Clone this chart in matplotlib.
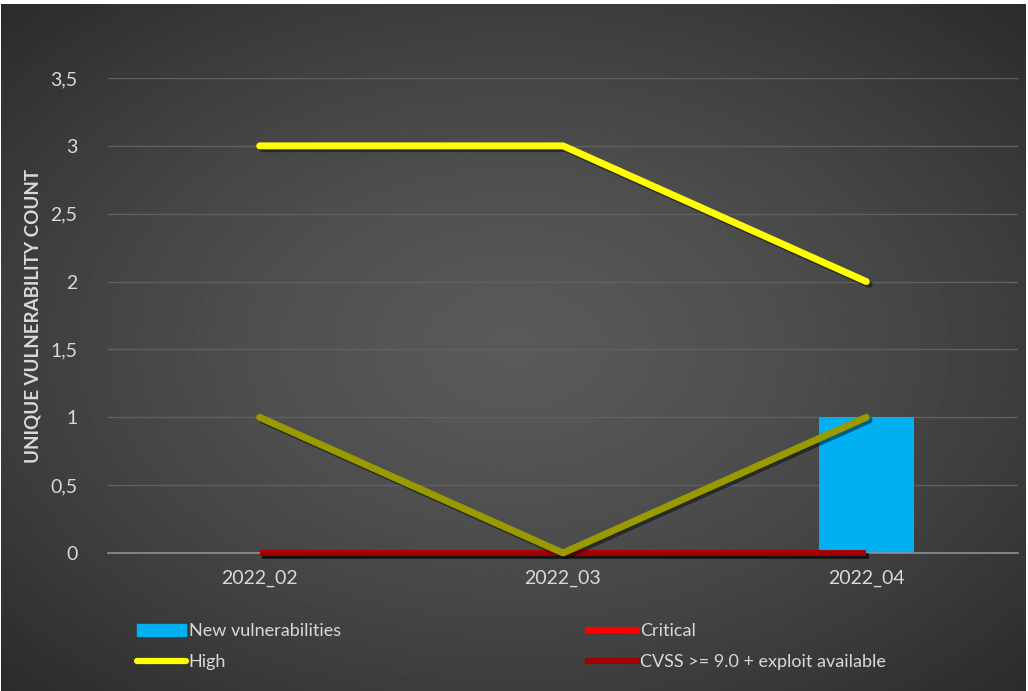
import numpy as np
import matplotlib.pyplot as plt
import matplotlib.patheffects as pe
from matplotlib.lines import Line2D
from matplotlib.patches import Patch

plt.rcParams['font.family'] = ['Lato', 'DejaVu Sans']

months = ["2022_02", "2022_03", "2022_04"]
new_vulns = [0, 0, 1]
critical = [0, 0, 0]
high = [3, 3, 2]
other = [1, 0, 1]
cvss_exploit = [0, 0, 0]

fig = plt.figure(figsize=(10.28, 6.91), dpi=100, facecolor="white")

# radial grey background
bg = fig.add_axes([0.001, 0, 0.997, 0.994])
yy, xx = np.mgrid[-1:1:400j, -1:1:600j]
r = np.sqrt(xx**2 + yy**2) / np.sqrt(2)
bg.imshow(0.35 - 0.18 * r**1.4, cmap="gray", vmin=0, vmax=1, aspect="auto",
          extent=[0, 1, 0, 1])
bg.axis("off")

ax = fig.add_axes([108 / 1028, 1 - 553 / 691, 910 / 1028, 475 / 691])
ax.patch.set_alpha(0)
x = np.arange(len(months))

shadow = [pe.SimpleLineShadow(offset=(2, -2), alpha=0.45, shadow_color="black"),
          pe.Normal()]

ax.bar(x, new_vulns, width=0.315, color="#00b0f0", zorder=2)
ax.plot(x, critical, color="#ff0000", lw=4, zorder=3, clip_on=False,
        solid_capstyle="butt", path_effects=shadow)
ax.plot(x, cvss_exploit, color="#a00000", lw=4, zorder=3, clip_on=False,
        solid_capstyle="butt", path_effects=shadow)
ax.plot(x, high, color="#ffff00", lw=5, zorder=4,
        solid_capstyle="round", path_effects=shadow)
ax.plot(x, other, color="#999900", lw=5, zorder=4, clip_on=False,
        solid_capstyle="round", path_effects=shadow)

ax.set_xlim(-0.5, 2.5)
ax.set_ylim(0, 3.5)
ax.set_yticks(np.arange(0, 3.6, 0.5))
ax.set_yticklabels(["0", "0,5", "1", "1,5", "2", "2,5", "3", "3,5"])
ax.set_xticks(x)
ax.set_xticklabels(months)
ax.grid(axis="y", color="#606060", lw=1, zorder=0)
ax.set_axisbelow(True)
for s in ["top", "right", "left"]:
    ax.spines[s].set_visible(False)
ax.spines["bottom"].set_color("#909090")
ax.spines["bottom"].set_linewidth(1.2)
ax.tick_params(length=0, colors="#d9d9d9", labelsize=14)
ax.tick_params(axis="y", pad=22)
ax.tick_params(axis="x", pad=12)
ax.set_ylabel("UNIQUE VULNERABILITY COUNT", color="#d9d9d9", fontsize=13.5,
              fontweight="bold", labelpad=6)

handles = [
    Patch(color="#00b0f0", label="New vulnerabilities"),
    Line2D([], [], color="#ffff00", lw=4.5, solid_capstyle="round", label="High"),
    Line2D([], [], color="#ff0000", lw=4.5, label="Critical"),
    Line2D([], [], color="#a00000", lw=4.5, label="CVSS >= 9.0 + exploit available"),
]
fig.legend(handles=handles, ncol=2, loc="upper left",
           bbox_to_anchor=(121 / 1028, 1 - 607 / 691), frameon=False,
           labelcolor="#d9d9d9", fontsize=13, handlelength=2.7,
           handletextpad=0.15, columnspacing=13.7, labelspacing=0.8,
           handleheight=0.6)

fig.savefig("out.png", dpi=100, facecolor="white")
